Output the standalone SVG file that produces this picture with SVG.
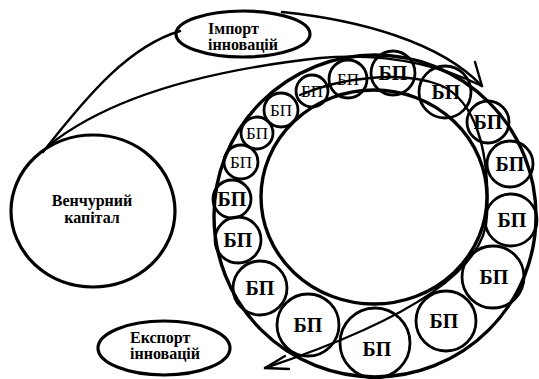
<svg xmlns="http://www.w3.org/2000/svg" width="539" height="379" viewBox="0 0 539 379">
<style>
.bg{fill:#fff}
.node{fill:none;stroke:#000;stroke-width:3.2}
.ring{fill:none;stroke:#000;stroke-width:3.4}
.bp{fill:none;stroke:#000;stroke-width:2.8}
.con{fill:none;stroke:#000;stroke-width:2.4;stroke-linecap:round;stroke-linejoin:round}
.lbl{font-family:'Liberation Serif','DejaVu Serif',serif;font-weight:bold;font-size:16px;fill:#000}
.tb{font-family:'Liberation Serif','DejaVu Serif',serif;font-weight:bold;font-size:20px;fill:#000;text-anchor:middle}
.tr{font-family:'Liberation Serif','DejaVu Serif',serif;font-size:17px;fill:#000;text-anchor:middle}
</style>
<rect class="bg" x="0" y="0" width="539" height="379"/>
<g id="ring">
<ellipse class="ring" cx="375" cy="216" rx="161" ry="161"/>
<ellipse class="ring" cx="374" cy="197" rx="113" ry="107"/>
</g>
<g id="venture">
<ellipse class="node" cx="93" cy="211" rx="82" ry="76"/>
<text class="lbl" x="92" y="206" text-anchor="middle">Венчурний</text>
<text class="lbl" x="92" y="223" text-anchor="middle">капітал</text>
</g>
<g id="import">
<ellipse class="node" cx="243" cy="34" rx="67" ry="23"/>
<text class="lbl" x="208" y="34">Імпорт</text>
<text class="lbl" x="208" y="50">інновацій</text>
</g>
<g id="export">
<ellipse class="node" cx="164" cy="348" rx="66" ry="27"/>
<text class="lbl" x="130" y="343">Експорт</text>
<text class="lbl" x="130" y="359">інновацій</text>
</g>
<g id="bp1"><circle class="bp" cx="238" cy="240" r="23"/><text class="tb" x="238" y="247">БП</text></g>
<g id="bp2"><circle class="bp" cx="232" cy="199" r="19"/><text class="tb" x="232" y="206">БП</text></g>
<g id="bp3"><circle class="bp" cx="241" cy="162" r="17"/><text class="tr" x="241" y="168">БП</text></g>
<g id="bp4"><circle class="bp" cx="257" cy="133" r="16"/><text class="tr" x="257" y="139">БП</text></g>
<g id="bp5"><circle class="bp" cx="281" cy="110" r="17"/><text class="tr" x="281" y="116">БП</text></g>
<g id="bp6"><circle class="bp" cx="312" cy="91" r="16"/><text class="tr" x="312" y="97">БП</text></g>
<g id="bp7"><circle class="bp" cx="348" cy="79" r="19"/><text class="tr" x="348" y="85">БП</text></g>
<g id="bp8"><circle class="bp" cx="393" cy="73" r="22"/><text class="tb" x="393" y="80">БП</text></g>
<g id="bp9"><circle class="bp" cx="445" cy="92" r="26"/><text class="tb" x="446" y="99">БП</text></g>
<g id="bp10"><circle class="bp" cx="488" cy="122" r="21"/><text class="tb" x="488" y="129">БП</text></g>
<g id="bp11"><circle class="bp" cx="510" cy="164" r="23"/><text class="tb" x="510" y="171">БП</text></g>
<g id="bp12"><circle class="bp" cx="511" cy="220" r="26"/><text class="tb" x="512" y="227">БП</text></g>
<g id="bp13"><circle class="bp" cx="493" cy="277" r="31"/><text class="tb" x="494" y="284">БП</text></g>
<g id="bp14"><circle class="bp" cx="446" cy="321" r="30"/><text class="tb" x="444" y="328">БП</text></g>
<g id="bp15"><circle class="bp" cx="375" cy="343" r="35"/><text class="tb" x="377" y="356">БП</text></g>
<g id="bp16"><circle class="bp" cx="308" cy="325" r="31"/><text class="tb" x="308" y="332">БП</text></g>
<g id="bp17"><circle class="bp" cx="260" cy="288" r="27"/><text class="tb" x="260" y="295">БП</text></g>
<g id="connectors">
<path class="con" d="M 43,152 C 90,92 130,46 180,31"/>
<path class="con" d="M 48,146 C 110,96 210,70 320,58 C 390,52 445,68 482,86"/>
<path class="con" d="M 282,12 C 360,20 440,42 482,86"/>
<path class="con" d="M 475,62 L 482,86"/>
<path class="con" d="M 300,95 C 340,78 400,70 440,85 C 475,100 490,150 487,215 C 486,268 415,318 265,368"/>
<path class="con" d="M 285,356 L 265,368 L 289,369"/>
</g>
</svg>
